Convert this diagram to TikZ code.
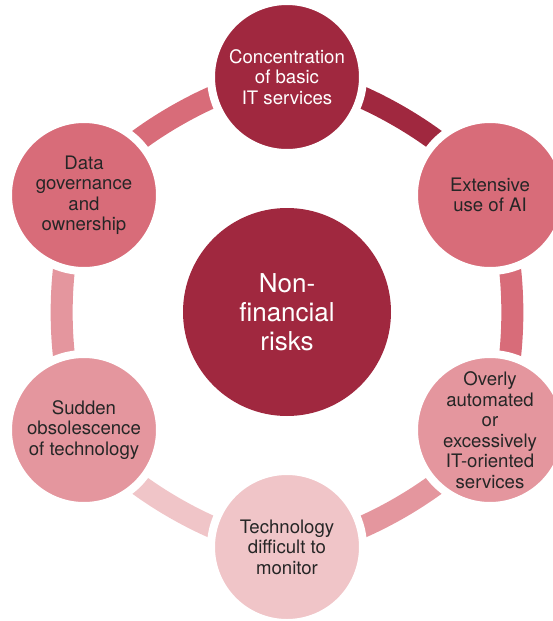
\documentclass[tikz,border=0pt]{standalone}
\usepackage{fontspec}
\setmainfont{TeX Gyre Heros}
\usepackage{tikz}
\usetikzlibrary{
        backgrounds,
        positioning
    }
\definecolor{riskdark}{HTML}{A0283F}
\definecolor{riskmid}{HTML}{D86C79}
\definecolor{risklight}{HTML}{E4969E}
\definecolor{riskpale}{HTML}{F0C5C8}
\definecolor{textgrey}{HTML}{262626}
\tikzset{
    risk/.style={circle,draw=white,line width=8pt,minimum size=152pt,inner sep=0pt,
        align=center,text=textgrey,font=\fontsize{18.6pt}{20.5pt}\selectfont},
    hub/.style={circle,fill=riskdark,minimum size=208pt,inner sep=0pt,
        align=center,text=white,font=\fontsize{26pt}{29pt}\selectfont},
    ring/.style={line width=22pt,bend left=30,looseness=0.65}
}

\begin{document}
\begin{tikzpicture}[x=1pt,y=-1pt]
        \useasboundingbox (0,0) rectangle (553,621);
        		\node[hub] (risks) at (287,312) {Non-\\financial\\risks};
        		\node[risk,fill=riskdark,text=white] (conc) at (287,77) {Concentration\\of basic\\IT services};
        		\node[risk,fill=riskmid] (ai) at (490,195) {Extensive\\use of AI};
        		\node[risk,fill=risklight] (auto) at (490,430) {Overly\\automated\\or\\excessively\\IT-oriented\\services};
        		\node[risk,fill=riskpale] (monitor) at (287,547) {Technology\\difficult to\\monitor};
        		\node[risk,fill=risklight] (obsol) at (84,430) {Sudden\\obsolescence\\of technology};
        		\node[risk,fill=riskmid] (data) at (84,195) {Data\\governance\\and\\ownership};
        \begin{scope}[on background layer]
        		\draw[ring,riskdark] (conc.center) to (ai.center);
        		\draw[ring,riskmid] (ai.center) to (auto.center);
        		\draw[ring,risklight] (auto.center) to (monitor.center);
        		\draw[ring,riskpale] (monitor.center) to (obsol.center);
        		\draw[ring,risklight] (obsol.center) to (data.center);
        		\draw[ring,riskmid] (data.center) to (conc.center);
        \end{scope}
\end{tikzpicture}
\end{document}
